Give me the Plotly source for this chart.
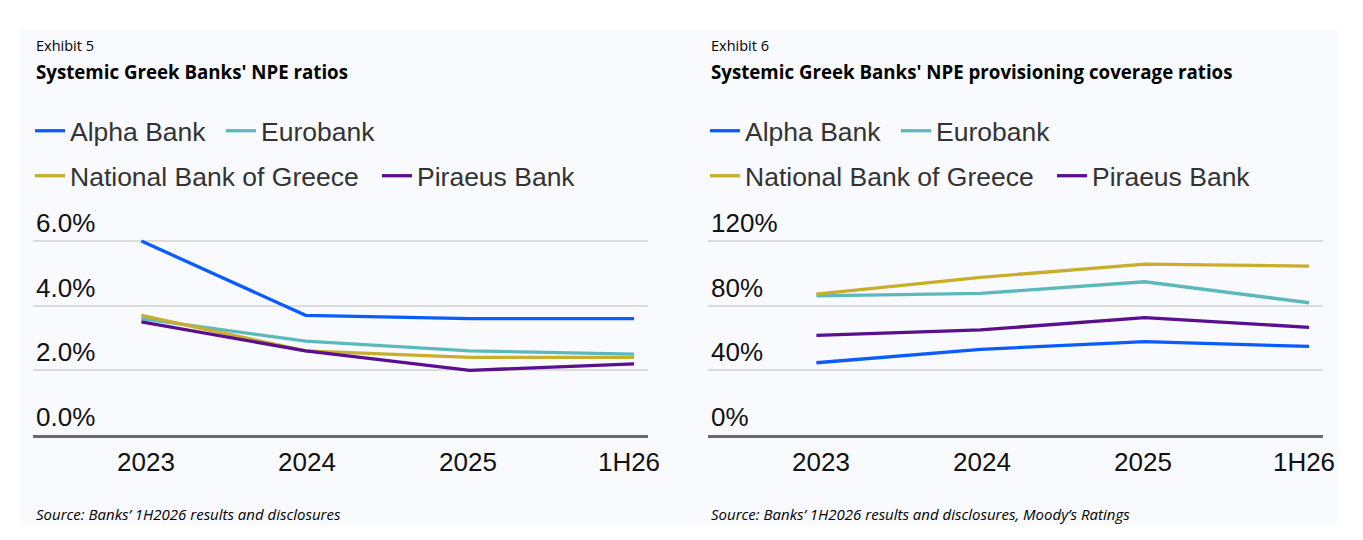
import plotly.graph_objects as go

# periods on the x axis
periods = ["2023", "2024", "2025", "1H26"]
period_ticks = [0, 1, 2, 3]

# Exhibit 5: NPE ratios (%)
npe_alpha = [6.0, 3.7, 3.6, 3.6]
npe_euro = [3.6, 2.9, 2.6, 2.5]
npe_nbg = [3.7, 2.6, 2.4, 2.4]
npe_piraeus = [3.5, 2.6, 2.0, 2.2]
npe_ticks = [0, 2, 4, 6]
npe_ticktext = ["0.0%", "2.0%", "4.0%", "6.0%"]

# Exhibit 6: NPE provisioning coverage ratios (%)
cov_alpha = [44.7, 53.0, 57.7, 54.8]
cov_euro = [86.0, 87.6, 94.8, 81.8]
cov_nbg = [87.2, 97.5, 105.7, 104.5]
cov_piraeus = [61.6, 65.0, 72.6, 66.6]
cov_ticks = [0, 40, 80, 120]
cov_ticktext = ["0%", "40%", "80%", "120%"]

banks = ["Alpha Bank", "Eurobank", "National Bank of Greece", "Piraeus Bank"]
colors = ["#0a5cff", "#5cb9bb", "#c8ae2c", "#5b0f8e"]

W, H = 1363, 540
OFF = 8  # page body margin
px_x = lambda p: (p - OFF) / W
px_y = lambda p: 1 - (p - OFF) / H

fig = go.Figure()

left = [npe_alpha, npe_euro, npe_nbg, npe_piraeus]
right = [cov_alpha, cov_euro, cov_nbg, cov_piraeus]
for i, name in enumerate(banks):
    row = "legend" if i < 2 else "legend2"
    fig.add_trace(go.Scatter(x=periods, y=left[i], name=name, mode="lines",
                             line=dict(color=colors[i], width=3.3),
                             xaxis="x", yaxis="y", legend=row))
for i, name in enumerate(banks):
    row = "legend3" if i < 2 else "legend4"
    fig.add_trace(go.Scatter(x=periods, y=right[i], name=name, mode="lines",
                             line=dict(color=colors[i], width=3.3),
                             xaxis="x2", yaxis="y2", legend=row))

# empty traces so the period-label axes get drawn
fig.add_trace(go.Scatter(x=period_ticks, y=npe_alpha, mode="none",
                         showlegend=False, hoverinfo="skip",
                         xaxis="x3", yaxis="y"))
fig.add_trace(go.Scatter(x=period_ticks, y=cov_alpha, mode="none",
                         showlegend=False, hoverinfo="skip",
                         xaxis="x4", yaxis="y2"))

tick_font = dict(family="Liberation Sans, Arial", size=26, color="#111111")
# data axes: lines only, labels come from the overlay axes below
xcommon = dict(type="category", range=[-0.66, 3.085], showgrid=False,
               showline=True, linecolor="#6b6b6b", linewidth=2.5,
               ticks="", showticklabels=False, fixedrange=True)
# label axes: the source spaces its period labels a little tighter
xlabels = dict(type="linear", range=[-0.702, 3.118], tickmode="array",
               tickvals=period_ticks, ticktext=periods, showgrid=False,
               zeroline=False, showline=False, ticks="", tickfont=tick_font,
               ticklabelstandoff=9, fixedrange=True)
# 0 sits at 435px, the top gridline at 241px; leave room above for its label
ydom = [px_y(435), px_y(435 - 7.5 * 194 / 6)]
ycommon = dict(showgrid=True, gridcolor="#dcdcdc", gridwidth=1.5,
               zeroline=False, showline=False, ticks="",
               ticklabelposition="inside top", tickfont=tick_font,
               tickmode="array", domain=ydom, fixedrange=True)

left_dom = [px_x(33), px_x(648)]
right_dom = [px_x(708), px_x(1323)]

fig.update_layout(
    width=W, height=H,
    margin=dict(l=0, r=0, t=0, b=0, autoexpand=False),
    paper_bgcolor="white",
    plot_bgcolor="rgba(0,0,0,0)",
    xaxis=dict(domain=left_dom, anchor="y", **xcommon),
    xaxis3=dict(domain=left_dom, anchor="y", overlaying="x", **xlabels),
    yaxis=dict(anchor="x", range=[0, 7.5], tickvals=npe_ticks,
               ticktext=npe_ticktext, **ycommon),
    xaxis2=dict(domain=right_dom, anchor="y2", **xcommon),
    xaxis4=dict(domain=right_dom, anchor="y2", overlaying="x2", **xlabels),
    yaxis2=dict(anchor="x2", range=[0, 150], tickvals=cov_ticks,
                ticktext=cov_ticktext, **ycommon),
    shapes=[dict(type="rect", xref="paper", yref="paper", layer="below",
                 x0=px_x(20), x1=px_x(1338), y0=px_y(525), y1=px_y(30),
                 fillcolor="#f8fafd", line=dict(width=0))],
)

leg_font = dict(family="Liberation Sans, Arial", size=26.5, color="#333333")
legend_spots = {
    "legend": (30, 131, 146),
    "legend2": (30, 176, 302),
    "legend3": (705, 131, 146),
    "legend4": (705, 176, 302),
}
for key, (lx, ly, ew) in legend_spots.items():
    fig.update_layout({key: dict(orientation="h", x=px_x(lx), xanchor="left",
                                 y=px_y(ly), yanchor="middle", font=leg_font,
                                 bgcolor="rgba(0,0,0,0)", entrywidth=ew,
                                 entrywidthmode="pixels", itemclick=False)})

title_font = dict(family="Open Sans, Noto Sans", size=18.7, color="#000000")
small_font = dict(family="Open Sans, Noto Sans", size=14.5, color="#000000")
src_font = dict(family="Open Sans, Noto Sans", size=15, color="#000000")
texts = [
    (34, 45, "Exhibit 5", small_font),
    (34, 72, "<b>Systemic Greek Banks' NPE ratios</b>", title_font),
    (34, 514, "<i>Source: Banks’ 1H2026 results and disclosures</i>", src_font),
    (709, 45, "Exhibit 6", small_font),
    (709, 72, "<b>Systemic Greek Banks' NPE provisioning coverage ratios</b>", title_font),
    (709, 514, "<i>Source: Banks’ 1H2026 results and disclosures, Moody’s Ratings</i>", src_font),
]
for tx, ty, txt, f in texts:
    fig.add_annotation(x=px_x(tx), y=px_y(ty), xref="paper", yref="paper",
                       xanchor="left", yanchor="middle", text=txt,
                       showarrow=False, font=f)

fig.write_html("out.html")
